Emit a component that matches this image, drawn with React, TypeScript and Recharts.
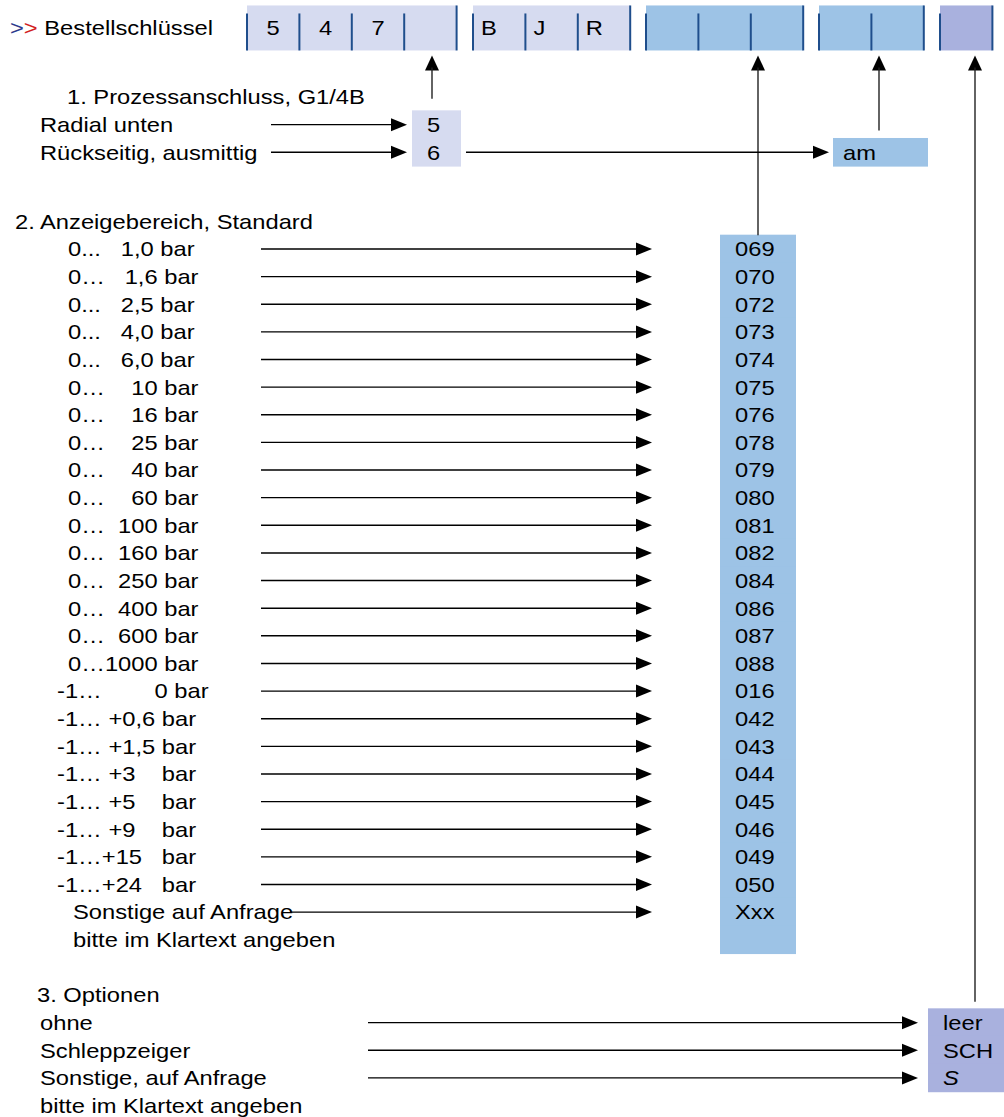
import React from "react";
import {
  ComposedChart,
  XAxis,
  YAxis,
  ReferenceArea,
  ReferenceLine,
  ReferenceDot,
} from "recharts";

// ---------- data ----------
const orderKeyTitle = "Bestellschlüssel";
const keyGroups = [["5", "4", "7", ""], ["B", "J", "R"], ["", "", ""], ["", ""], [""]];

const connectionTitle = "1. Prozessanschluss, G1/4B";
const connectionLabels = ["Radial unten", "Rückseitig, ausmittig"];
const connectionCodes = ["5", "6"];
const eccentricCode = "am";

const rangeTitle = "2. Anzeigebereich, Standard";
const rangeLabels = [
  "0...   1,0 bar",
  "0…   1,6 bar",
  "0...   2,5 bar",
  "0...   4,0 bar",
  "0...   6,0 bar",
  "0…    10 bar",
  "0…    16 bar",
  "0…    25 bar",
  "0…    40 bar",
  "0…    60 bar",
  "0…  100 bar",
  "0…  160 bar",
  "0…  250 bar",
  "0…  400 bar",
  "0…  600 bar",
  "0…1000 bar",
  "-1…        0 bar",
  "-1… +0,6 bar",
  "-1… +1,5 bar",
  "-1… +3    bar",
  "-1… +5    bar",
  "-1… +9    bar",
  "-1…+15   bar",
  "-1…+24   bar",
  "Sonstige auf Anfrage",
];
const rangeCodes = [
  "069", "070", "072", "073", "074", "075", "076", "078", "079", "080", "081", "082",
  "084", "086", "087", "088", "016", "042", "043", "044", "045", "046", "049", "050", "Xxx",
];
const rangeNote = "bitte im Klartext angeben";

const optionTitle = "3. Optionen";
const optionLabels = ["ohne", "Schleppzeiger", "Sonstige, auf Anfrage"];
const optionCodes = ["leer", "SCH", "S"];
const optionNote = "bitte im Klartext angeben";

// ---------- document lines (half-row grid for the category axis) ----------
const lines: { key: string }[] = [];
function place(key: string, before: number) {
  for (let i = before; i >= 1; i--) lines.push({ key: `${key}~${i}` });
  lines.push({ key });
}
place("head", 1);
place("s1-title", 4);
connectionLabels.forEach((_, i) => place(`s1-${i}`, 1));
place("s2-title", 4);
rangeLabels.forEach((_, i) => place(`s2-${i}`, 1));
place("s2-note", 1);
place("s3-title", 3);
optionLabels.forEach((_, i) => place(`s3-${i}`, 1));
place("s3-note", 1);

// ---------- styles ----------
const W = 1004;
const H = 1117;
const FONT = "'Liberation Sans', Arial, sans-serif";
const STRETCH = 1.13;
const LAVENDER = "#D6DBF0";
const BLUE = "#9DC3E6";
const VIOLET = "#A9B1DE";
const DIVIDER = "#1F4E8C";
const HALF_ROW = 13.815;

const Txt = ({ x, y, children, anchor = "start", italic = false }: any) => (
  <text
    transform={`translate(${x},${y}) scale(${STRETCH},1)`}
    x={0}
    y={0}
    dy="0.35em"
    fontFamily={FONT}
    fontSize={21}
    fill="#000"
    textAnchor={anchor}
    fontStyle={italic ? "italic" : "normal"}
    style={{ whiteSpace: "pre" }}
  >
    {children}
  </text>
);

const textShape = (value: string) => (p: any) => <Txt x={p.cx} y={p.cy}>{value}</Txt>;

const arrowShape = (p: any) => {
  const { x1, y1, x2, y2 } = p;
  return (
    <g>
      <line x1={x1} y1={y1} x2={x2 - 14} y2={y2} stroke="#000" strokeWidth={1.4} />
      <polygon points={`${x2},${y2} ${x2 - 16},${y2 - 6.5} ${x2 - 16},${y2 + 6.5}`} fill="#000" />
    </g>
  );
};

const connectorShape = (stop: number) => (p: any) => {
  const { x1, y1, y2 } = p;
  const tip = y1 + 27.5;
  return (
    <g>
      <polygon points={`${x1},${tip} ${x1 - 7},${tip + 15} ${x1 + 7},${tip + 15}`} fill="#000" />
      <line x1={x1} y1={tip + 12} x2={x1} y2={y2 - HALF_ROW - stop} stroke="#222" strokeWidth={1.4} />
    </g>
  );
};

const cellShape = (text: string, fill: string, pad: number, italic = false) => (p: any) => {
  const cy = p.y + p.height / 2;
  const half = p.height || HALF_ROW;
  return (
    <g>
      <rect x={p.x} y={cy - half - 0.5} width={p.width} height={2 * half + 1} fill={fill} />
      {text ? (
        <Txt x={p.x + pad} y={cy} italic={italic}>
          {text}
        </Txt>
      ) : null}
    </g>
  );
};

const groupStyles = [
  { x: 247, fill: LAVENDER, centred: true },
  { x: 473, fill: LAVENDER, centred: false },
  { x: 646, fill: BLUE, centred: false },
  { x: 819, fill: BLUE, centred: false },
  { x: 940, fill: VIOLET, centred: false },
];
const CELL_W = 52.4;

const groupShape = (cells: string[], fill: string, centred: boolean) => (p: any) => {
  const cy = p.y + p.height / 2;
  const top = cy - 22.5;
  const bottom = cy + 22.5;
  const w = p.width / cells.length;
  return (
    <g>
      <rect x={p.x} y={top} width={p.width} height={45} fill={fill} />
      {cells.map((_, i) => (
        <line key={`d${i}`} x1={p.x + i * w} x2={p.x + i * w} y1={top + 8} y2={bottom} stroke={DIVIDER} strokeWidth={2} />
      ))}
      <line x1={p.x + p.width} x2={p.x + p.width} y1={top} y2={bottom} stroke={DIVIDER} strokeWidth={2} />
      {cells.map((c, i) =>
        c ? (
          <Txt key={`t${i}`} x={centred ? p.x + i * w + w / 2 : p.x + i * w + 8} y={cy} anchor={centred ? "middle" : "start"}>
            {c}
          </Txt>
        ) : null
      )}
    </g>
  );
};

const headerTitleShape = (p: any) => (
  <text
    transform={`translate(${p.cx},${p.cy}) scale(${STRETCH},1)`}
    dy="0.35em"
    fontFamily={FONT}
    fontSize={21}
    style={{ whiteSpace: "pre" }}
  >
    <tspan fill="#2B3A8C">&gt;</tspan>
    <tspan fill="#D22020">&gt;</tspan>
    <tspan fill="#000">{" " + orderKeyTitle}</tspan>
  </text>
);

const connectors = [
  { x: 432, target: "s1-0", stop: 12 },
  { x: 758, target: "s2-0", stop: 0 },
  { x: 879, target: "s1-1", stop: 8 },
  { x: 975, target: "s3-0", stop: 7 },
];

export default function App() {
  const label = (key: string, x: number, value: string) => (
    <ReferenceDot key={`l-${key}`} x={x} y={key} r={1} ifOverflow="visible" shape={textShape(value)} />
  );
  const arrow = (key: string, from: number, to: number) => (
    <ReferenceLine
      key={`a-${key}-${from}`}
      ifOverflow="visible"
      segment={[{ x: from, y: key }, { x: to, y: key }]}
      shape={arrowShape}
    />
  );
  const cell = (key: string, x1: number, x2: number, text: string, fill: string, pad: number, italic = false) => (
    <ReferenceArea
      key={`c-${key}-${x1}`}
      x1={x1}
      x2={x2}
      y1={key}
      y2={key}
      ifOverflow="visible"
      shape={cellShape(text, fill, pad, italic)}
    />
  );

  const groups = keyGroups.map((cells, i) => {
    const st = groupStyles[i];
    return (
      <ReferenceArea
        key={`g${i}`}
        x1={st.x}
        x2={st.x + cells.length * CELL_W}
        y1="head"
        y2="head"
        ifOverflow="visible"
        shape={groupShape(cells, st.fill, st.centred)}
      />
    );
  });

  return (
    <div style={{ position: "absolute", left: 0, top: 0, width: W, height: H, background: "#fff" }}>
      <ComposedChart
        width={W}
        height={H}
        data={lines}
        layout="vertical"
        margin={{ top: 7.24, right: 0, bottom: 4.56, left: 0 }}
      >
        <XAxis type="number" domain={[0, W]} allowDataOverflow hide />
        <YAxis type="category" dataKey="key" scale="band" hide />

        {/* order key header */}
        <ReferenceDot x={10} y="head" r={1} ifOverflow="visible" shape={headerTitleShape} />
        {groups}
        {connectors.map((c) => (
          <ReferenceLine
            key={`k-${c.x}`}
            ifOverflow="visible"
            segment={[{ x: c.x, y: "head" }, { x: c.x, y: c.target }]}
            shape={connectorShape(c.stop)}
          />
        ))}

        {/* 1. process connection */}
        {label("s1-title", 67, connectionTitle)}
        {connectionLabels.map((t, i) => label(`s1-${i}`, 40, t))}
        {connectionLabels.map((_, i) => arrow(`s1-${i}`, 271, 407))}
        {connectionCodes.map((c, i) => cell(`s1-${i}`, 412, 461, c, LAVENDER, 15))}
        {arrow(`s1-${connectionCodes.length - 1}`, 466, 829)}
        {cell(`s1-${connectionCodes.length - 1}`, 833, 928, eccentricCode, BLUE, 10)}

        {/* 2. display range */}
        {label("s2-title", 15, rangeTitle)}
        {rangeLabels.map((t, i) => label(`s2-${i}`, t.startsWith("-") ? 57 : t.startsWith("0") ? 68 : 73, t))}
        {rangeLabels.map((t, i) => arrow(`s2-${i}`, t.startsWith("Sonstige") ? 290 : 261, 652))}
        {rangeCodes.map((c, i) => cell(`s2-${i}`, 720, 796, c, BLUE, 15))}
        {cell("s2-note", 720, 796, "", BLUE, 15)}
        {label("s2-note", 73, rangeNote)}

        {/* 3. options */}
        {label("s3-title", 37, optionTitle)}
        {optionLabels.map((t, i) => label(`s3-${i}`, 40, t))}
        {optionLabels.map((_, i) => arrow(`s3-${i}`, 368, 918))}
        {optionCodes.map((c, i) => cell(`s3-${i}`, 928, 1004, c, VIOLET, 15, c === "S"))}
        {label("s3-note", 40, optionNote)}
      </ComposedChart>
    </div>
  );
}
